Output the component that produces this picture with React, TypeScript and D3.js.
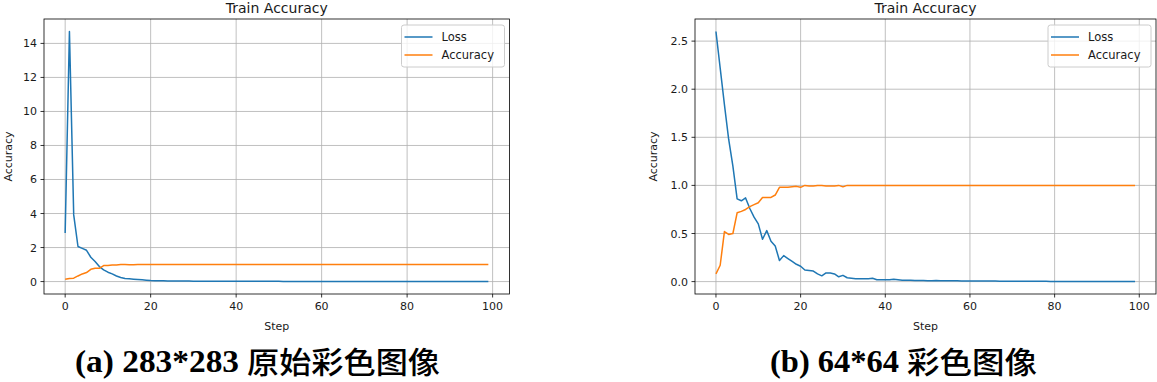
import React from "react";
import * as d3 from "d3";

const steps: number[] = Array.from({ length: 100 }, (_, i) => i);

const lossA: number[] = [
  2.85, 14.7, 3.92, 2.06, 1.95, 1.84, 1.43, 1.18, 0.88, 0.69,
  0.55, 0.45, 0.33, 0.24, 0.18, 0.16, 0.14, 0.12, 0.10, 0.08,
  0.06, 0.055, 0.05, 0.045, 0.04, 0.038, 0.035, 0.032, 0.03, 0.028,
  0.026, 0.025, 0.024, 0.022, 0.021, 0.02, 0.019, 0.018, 0.018, 0.017,
  0.016, 0.016, 0.015, 0.015, 0.014, 0.014, 0.013, 0.013, 0.012, 0.012,
  0.012, 0.011, 0.011, 0.011, 0.01, 0.01, 0.01, 0.01, 0.009, 0.009,
  0.009, 0.009, 0.009, 0.008, 0.008, 0.008, 0.008, 0.008, 0.008, 0.007,
  0.007, 0.007, 0.007, 0.007, 0.007, 0.007, 0.006, 0.006, 0.006, 0.006,
  0.006, 0.006, 0.006, 0.006, 0.006, 0.005, 0.005, 0.005, 0.005, 0.005,
  0.005, 0.005, 0.005, 0.005, 0.005, 0.005, 0.005, 0.004, 0.004, 0.004,
];

const accA: number[] = [
  0.14, 0.18, 0.2, 0.33, 0.45, 0.53, 0.72, 0.78, 0.78, 0.94,
  0.95, 0.97, 0.98, 1.0, 1.0, 0.99, 0.99, 1.0, 1.0, 1.0,
  1, 1, 1, 1, 1, 1, 1, 1, 1, 1,
  1, 1, 1, 1, 1, 1, 1, 1, 1, 1,
  1, 1, 1, 1, 1, 1, 1, 1, 1, 1,
  1, 1, 1, 1, 1, 1, 1, 1, 1, 1,
  1, 1, 1, 1, 1, 1, 1, 1, 1, 1,
  1, 1, 1, 1, 1, 1, 1, 1, 1, 1,
  1, 1, 1, 1, 1, 1, 1, 1, 1, 1,
  1, 1, 1, 1, 1, 1, 1, 1, 1, 1,
];

const lossB: number[] = [
  2.6, 2.22, 1.84, 1.48, 1.2, 0.86, 0.84, 0.87, 0.76, 0.67,
  0.6, 0.44, 0.53, 0.42, 0.37, 0.22, 0.27, 0.24, 0.21, 0.18,
  0.16, 0.12, 0.115, 0.11, 0.08, 0.06, 0.09, 0.09, 0.08, 0.05,
  0.065, 0.04, 0.035, 0.03, 0.03, 0.03, 0.03, 0.035, 0.02, 0.02,
  0.02, 0.02, 0.025, 0.02, 0.015, 0.015, 0.015, 0.012, 0.012, 0.012,
  0.01, 0.01, 0.012, 0.01, 0.009, 0.008, 0.008, 0.008, 0.007, 0.007,
  0.006, 0.006, 0.006, 0.005, 0.005, 0.005, 0.005, 0.004, 0.004, 0.004,
  0.004, 0.004, 0.003, 0.003, 0.003, 0.003, 0.003, 0.003, 0.003, 0.002,
  0.002, 0.002, 0.002, 0.002, 0.002, 0.002, 0.002, 0.002, 0.002, 0.002,
  0.002, 0.002, 0.002, 0.002, 0.002, 0.002, 0.001, 0.001, 0.001, 0.001,
];

const accB: number[] = [
  0.08, 0.17, 0.52, 0.49, 0.5, 0.715, 0.73, 0.75, 0.78, 0.8,
  0.82, 0.875, 0.875, 0.875, 0.9, 0.98, 0.98, 0.98, 0.985, 0.99,
  0.98, 1.0, 0.995, 0.995, 1.0, 1.0, 0.995, 0.995, 0.995, 1.0,
  0.985, 1, 1, 1, 1, 1, 1, 1, 1, 1,
  1, 1, 1, 1, 1, 1, 1, 1, 1, 1,
  1, 1, 1, 1, 1, 1, 1, 1, 1, 1,
  1, 1, 1, 1, 1, 1, 1, 1, 1, 1,
  1, 1, 1, 1, 1, 1, 1, 1, 1, 1,
  1, 1, 1, 1, 1, 1, 1, 1, 1, 1,
  1, 1, 1, 1, 1, 1, 1, 1, 1, 1,
];

const xTicks: number[] = [0, 20, 40, 60, 80, 100];
const yTicksA: number[] = [0, 2, 4, 6, 8, 10, 12, 14];
const yTicksB: number[] = [0, 0.5, 1.0, 1.5, 2.0, 2.5];

const seriesNames: string[] = ["Loss", "Accuracy"];
const colors: string[] = ["#1f77b4", "#ff7f0e"];
const chartTitle = "Train Accuracy";
const xLabel = "Step";
const yLabel = "Accuracy";

const FONT = "'DejaVu Sans', sans-serif";
const TXT = "#1a1a1a";

type PanelProps = {
  left: number;
  right: number;
  top: number;
  bottom: number;
  loss: number[];
  acc: number[];
  yTicks: number[];
  fmt: (v: number) => string;
  yLabelOffset: number;
};

function Panel({ left, right, top, bottom, loss, acc, yTicks, fmt, yLabelOffset }: PanelProps) {
  const xMin = d3.min(steps)!;
  const xMax = d3.max(steps)!;
  const xm = (xMax - xMin) * 0.05;
  const x = d3.scaleLinear().domain([xMin - xm, xMax + xm]).range([left, right]);
  const all = loss.concat(acc);
  const yMin = d3.min(all)!;
  const yMax = d3.max(all)!;
  const ym = (yMax - yMin) * 0.05;
  const y = d3.scaleLinear().domain([yMin - ym, yMax + ym]).range([bottom, top]);
  const line = d3
    .line<number>()
    .x((_, i) => x(steps[i]))
    .y((d) => y(d));
  const cx = (left + right) / 2;
  const cy = (top + bottom) / 2;
  const legX = right - 108;
  const legY = top + 6;
  return (
    <g>
      {xTicks.map((t) => (
        <line key={"gx" + t} x1={x(t)} x2={x(t)} y1={top} y2={bottom} stroke="#b0b0b0" strokeWidth={0.8} />
      ))}
      {yTicks.map((t) => (
        <line key={"gy" + t} x1={left} x2={right} y1={y(t)} y2={y(t)} stroke="#b0b0b0" strokeWidth={0.8} />
      ))}
      <path d={line(loss) || ""} fill="none" stroke={colors[0]} strokeWidth={1.5} strokeLinejoin="round" />
      <path d={line(acc) || ""} fill="none" stroke={colors[1]} strokeWidth={1.5} strokeLinejoin="round" />
      <rect x={left} y={top} width={right - left} height={bottom - top} fill="none" stroke="#000" strokeWidth={0.8} />
      {xTicks.map((t) => (
        <g key={"xt" + t}>
          <line x1={x(t)} x2={x(t)} y1={bottom} y2={bottom + 3.5} stroke="#000" strokeWidth={0.8} />
          <text x={x(t)} y={bottom + 16} textAnchor="middle" fontFamily={FONT} fontSize={11} fill={TXT}>
            {t}
          </text>
        </g>
      ))}
      {yTicks.map((t) => (
        <g key={"yt" + t}>
          <line x1={left - 3.5} x2={left} y1={y(t)} y2={y(t)} stroke="#000" strokeWidth={0.8} />
          <text x={left - 7} y={y(t) + 4} textAnchor="end" fontFamily={FONT} fontSize={11} fill={TXT}>
            {fmt(t)}
          </text>
        </g>
      ))}
      <text x={cx} y={13} textAnchor="middle" fontFamily={FONT} fontSize={14} fill={TXT}>
        {chartTitle}
      </text>
      <text x={cx} y={bottom + 36} textAnchor="middle" fontFamily={FONT} fontSize={11} fill={TXT}>
        {xLabel}
      </text>
      <text
        transform={`translate(${left - yLabelOffset},${cy}) rotate(-90)`}
        textAnchor="middle"
        fontFamily={FONT}
        fontSize={11}
        fill={TXT}
      >
        {yLabel}
      </text>
      <rect x={legX} y={legY} width={103} height={42} rx={2.5} fill="#fff" fillOpacity={0.8} stroke="#cccccc" strokeWidth={1} />
      {seriesNames.map((n, i) => (
        <g key={n}>
          <line x1={legX + 3} x2={legX + 31} y1={legY + 12 + i * 18} y2={legY + 12 + i * 18} stroke={colors[i]} strokeWidth={1.5} />
          <text x={legX + 40} y={legY + 16 + i * 18} fontFamily={FONT} fontSize={11.5} fill={TXT}>
            {n}
          </text>
        </g>
      ))}
    </g>
  );
}

const captionA: [string, string] = ["(a) 283*283", "原始彩色图像"];
const captionB: [string, string] = ["(b) 64*64", "彩色图像"];

function Caption({ x0, x1, x2, parts }: { x0: number; x1: number; x2: number; parts: [string, string] }) {
  return (
    <g>
      <text
        x={x0}
        y={372}
        fontFamily="'Liberation Serif', serif"
        fontWeight="bold"
        fontSize={31}
        fill="#000"
        textLength={x1 - x0 - 8}
        lengthAdjust="spacingAndGlyphs"
      >
        {parts[0]}
      </text>
      <text
        x={x1}
        y={373}
        fontFamily="'Noto Sans CJK SC', sans-serif"
        fontWeight={500}
        fontSize={30}
        fill="#000"
        textLength={x2 - x1}
        lengthAdjust="spacingAndGlyphs"
      >
        {parts[1]}
      </text>
    </g>
  );
}

export default function App() {
  return (
    <svg width={1157} height={382} style={{ position: "absolute", left: 0, top: 0, background: "#fff" }}>
      <rect width={1157} height={382} fill="#fff" />
      <Panel left={44} right={509.5} top={19} bottom={294} loss={lossA} acc={accA} yTicks={yTicksA} fmt={(v) => String(v)} yLabelOffset={32} />
      <Panel left={695} right={1156} top={19} bottom={294} loss={lossB} acc={accB} yTicks={yTicksB} fmt={(v) => v.toFixed(1)} yLabelOffset={38} />
      <Caption x0={75} x1={247} x2={440} parts={captionA} />
      <Caption x0={770} x1={907} x2={1037} parts={captionB} />
    </svg>
  );
}
